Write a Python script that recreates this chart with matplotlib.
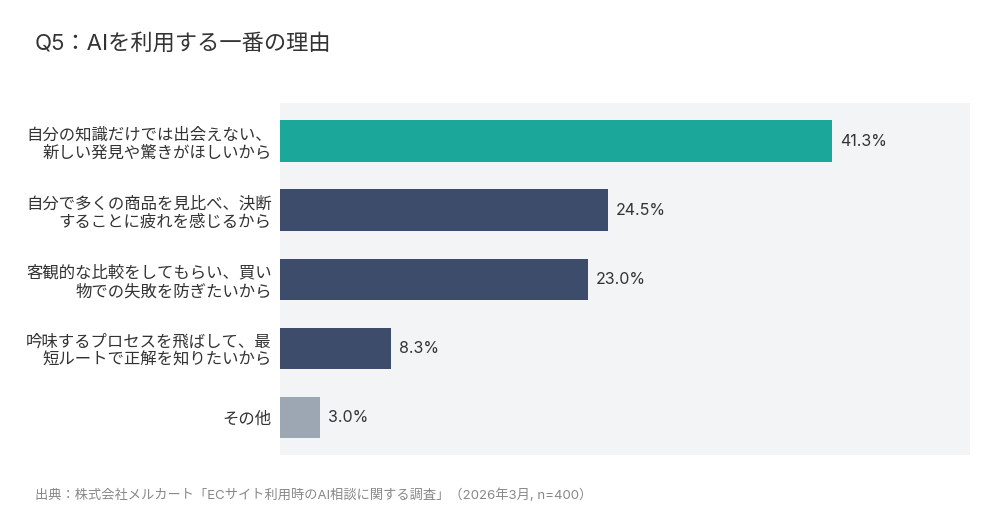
import matplotlib
matplotlib.use("Agg")
import matplotlib.pyplot as plt

plt.rcParams['font.family'] = ['Inter', 'Noto Sans CJK JP', 'DejaVu Sans']

categories = [
    "自分の知識だけでは出会えない、\n新しい発見や驚きがほしいから",
    "自分で多くの商品を見比べ、決断\nすることに疲れを感じるから",
    "客観的な比較をしてもらい、買い\n物での失敗を防ぎたいから",
    "吟味するプロセスを飛ばして、最\n短ルートで正解を知りたいから",
    "その他",
]
values = [41.3, 24.5, 23.0, 8.3, 3.0]
colors = ["#1BA89A", "#3E4C6B", "#3E4C6B", "#3E4C6B", "#9CA7B3"]

title = "Q5：AIを利用する一番の理由"
source = "出典：株式会社メルカート「ECサイト利用時のAI相談に関する調査」（2026年3月, n=400）"

fig = plt.figure(figsize=(10, 5.27), dpi=100)
ax = fig.add_axes([0.280, 1 - 455 / 527, 0.690, 352 / 527])
ax.set_facecolor("#F3F4F6")

y = list(range(len(values)))
ax.barh(y, values, height=0.6, color=colors)
ax.set_ylim(4.54, -0.55)
ax.set_xlim(0, 51.6)

for yi, v in zip(y, values):
    ax.text(v + 0.6, yi, f"{v:.1f}%", va="center", ha="left", fontsize=11.5, color="#333333")

ax.set_yticks(y)
ax.set_yticklabels(categories, fontsize=11.8, color="#333333", linespacing=1.22)
ax.tick_params(axis="y", length=0, pad=6)
ax.set_xticks([])
for s in ax.spines.values():
    s.set_visible(False)

fig.text(0.035, 1 - 43 / 527, title, fontsize=16, color="#333333", va="center", ha="left")
fig.text(0.035, 1 - 495 / 527, source, fontsize=9.5, color="#888888", va="center", ha="left")

fig.savefig("out.png", dpi=100, facecolor="white")
